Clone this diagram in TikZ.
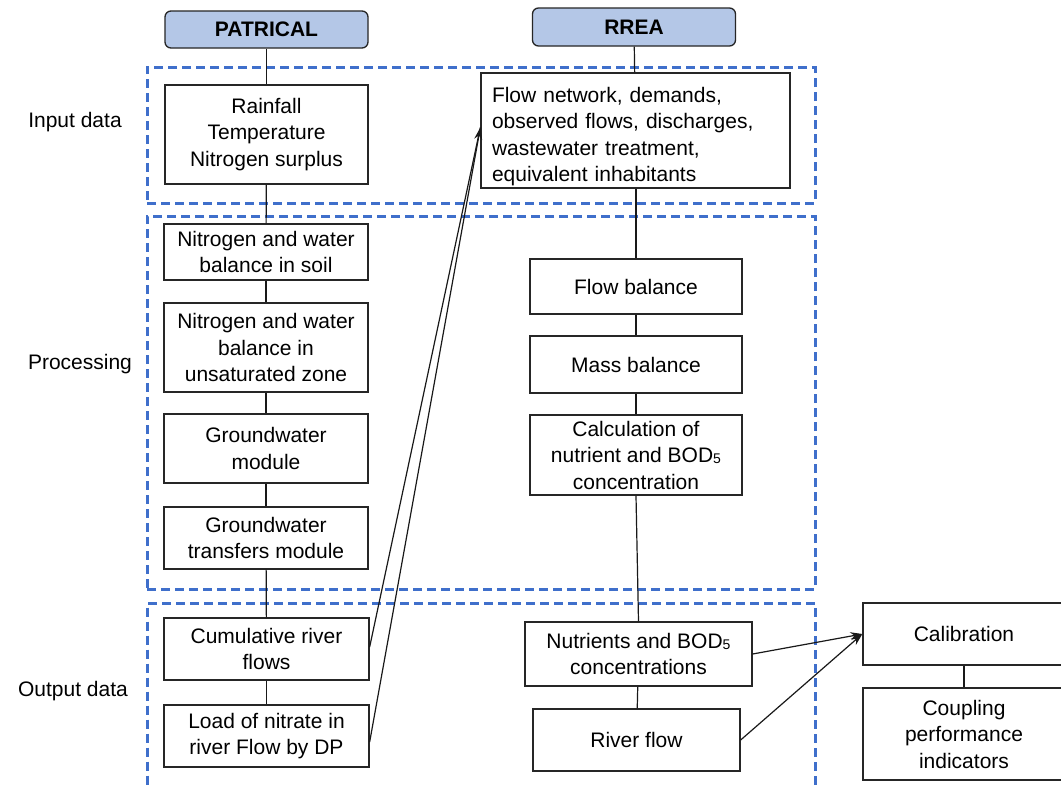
\documentclass[tikz,border=0pt]{standalone}
\usepackage{fontspec}
\setmainfont{Liberation Sans}
\usetikzlibrary{arrows.meta}
\definecolor{dashblue}{HTML}{3F6FCB}
\definecolor{hdrfill}{HTML}{B4C7E7}
\newcommand{\bodfive}{BOD\raisebox{-1pt}{\fontsize{14}{14}\selectfont 5}}
\begin{document}
\begin{tikzpicture}[x=1pt,y=-1pt,
  box/.style={draw=black!85, line width=1.3pt, fill=white, align=center,
    font=\fontsize{21}{26.5}\selectfont, inner sep=2pt},
  hdr/.style={box, rounded corners=6pt, fill=hdrfill, font=\bfseries\fontsize{21}{24}\selectfont},
  group/.style={draw=dashblue, line width=3pt, dash pattern=on 9pt off 5pt, inner sep=0pt},
  lbl/.style={font=\fontsize{21}{26}\selectfont, inner sep=0pt},
  link/.style={line width=1.2pt, draw=black!90},
  arr/.style={link, -{Stealth[length=12pt,width=8pt]}}
]
\useasboundingbox (0,0) rectangle (1061,787);
\fill[white] (0,0) rectangle (1061,787);

% dashed groups
\node[group, minimum width=668pt, minimum height=136pt] (gin) at (481,135) {};
\node[group, minimum width=668pt, minimum height=373pt] (gproc) at (481,402.5) {};
\node[group, minimum width=668pt, minimum height=185.5pt] (gout) at (481,695.75) {};

% row labels
\node[lbl] (linput) at (75,122) {Input data};
\node[lbl] (lproc) at (80,364) {Processing};
\node[lbl] (lout) at (73,691) {Output data};

% headers
\node[hdr, minimum width=203pt, minimum height=37pt] (pat) at (266.5,29.5) {PATRICAL};
\node[hdr, minimum width=203pt, minimum height=38pt] (rrea) at (634,27) {RREA};

% PATRICAL column
\node[box, minimum width=203pt, minimum height=99pt] (rain) at (266.5,134.5) {Rainfall\\Temperature\\Nitrogen surplus};
\node[box, minimum width=204pt, minimum height=56pt] (nsoil) at (266,252) {Nitrogen and water\\balance in soil};
\node[box, minimum width=204pt, minimum height=89pt] (nunsat) at (266,347.5) {Nitrogen and water\\balance in\\unsaturated zone};
\node[box, minimum width=204pt, minimum height=69pt] (gwm) at (266,448.5) {Groundwater\\module};
\node[box, minimum width=204pt, minimum height=62pt] (gwt) at (266,538) {Groundwater\\transfers module};
\node[box, minimum width=205pt, minimum height=62pt] (cum) at (266.5,649) {Cumulative river\\flows};
\node[box, minimum width=205pt, minimum height=62pt] (load) at (266.5,736) {Load of nitrate in\\river Flow by DP};

% RREA column
\node[box, align=left, text width=287pt, inner xsep=11pt, minimum width=309pt, minimum height=115pt] (flownet) at (635.5,130.5) {\rule{0pt}{27pt}Flow network, demands,\\observed flows, discharges,\\wastewater treatment,\\equivalent inhabitants};
\node[box, minimum width=212pt, minimum height=55pt] (fbal) at (636,286.5) {Flow balance};
\node[box, minimum width=212pt, minimum height=57pt] (mbal) at (636,364.5) {Mass balance};
\node[box, minimum width=212pt, minimum height=80pt] (calc) at (636,455) {Calculation of\\nutrient and \bodfive\\concentration};
\node[box, minimum width=227pt, minimum height=64pt] (nut) at (638.5,654) {Nutrients and \bodfive\\concentrations};
\node[box, minimum width=207pt, minimum height=62pt] (river) at (636.5,740) {River flow};

% right column
\node[box, minimum width=202pt, minimum height=62pt] (calib) at (964,634) {Calibration};
\node[box, minimum width=202pt, minimum height=92pt] (coup) at (964,734) {Coupling\\performance\\indicators};

% connectors
\draw[link] (pat) -- (rain);
\draw[link] (rain) -- (nsoil);
\draw[link] (nsoil) -- (nunsat);
\draw[link] (nunsat) -- (gwm);
\draw[link] (gwm) -- (gwt);
\draw[link] (gwt) -- (cum);
\draw[link] (cum) -- (load);
\draw[link] (rrea) -- (flownet);
\draw[link] (flownet.south -| fbal.north) -- (fbal);
\draw[link] (fbal) -- (mbal);
\draw[link] (mbal) -- (calc);
\draw[link] (calc.south) -- (nut.north);
\draw[link] (nut) -- (river);
\draw[link] (calib) -- (coup);

\coordinate (tipA) at ([yshift=3pt]flownet.west);
\draw[link] ([yshift=2pt]cum.east) -- (tipA);
\draw[arr] ([yshift=-6pt]load.east) -- (tipA);
\draw[arr] (nut.east) -- (calib.west);
\draw[arr] (river.east) -- (calib.west);
\end{tikzpicture}
\end{document}
